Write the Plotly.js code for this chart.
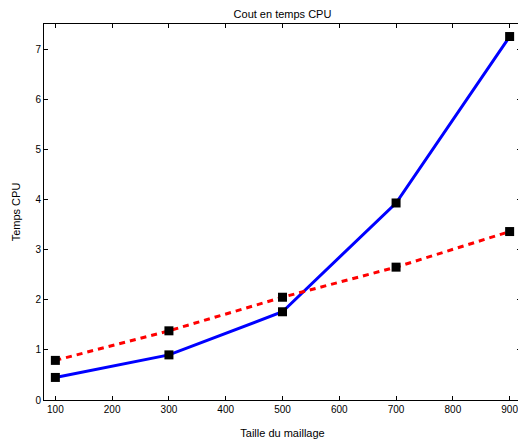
<!DOCTYPE html>
<html>
<head>
<meta charset="utf-8">
<script src="https://cdn.plot.ly/plotly-3.0.1.min.js"></script>
<style>
  html, body { margin: 0; padding: 0; overflow: hidden; background: #fff; }
  #chart { width: 522px; height: 441px; }
</style>
</head>
<body>
<div id="chart"></div>
<script>
// Mesh sizes and CPU times for the two methods
const tailles = [100, 300, 500, 700, 900];
const tempsMethodeA = [0.45, 0.90, 1.76, 3.93, 7.25];
const tempsMethodeB = [0.79, 1.38, 2.05, 2.65, 3.36];
const ticksX = [100, 200, 300, 400, 500, 600, 700, 800, 900];
const ticksY = [0, 1, 2, 3, 4, 5, 6, 7];

const marker = { symbol: 'square', size: 9, color: '#000' };

const traces = [
  {
    x: tailles, y: tempsMethodeA, mode: 'lines+markers', type: 'scatter',
    line: { color: '#0000ff', width: 3 }, marker: marker
  },
  {
    x: tailles, y: tempsMethodeB, mode: 'lines+markers', type: 'scatter',
    line: { color: '#ff0000', width: 3, dash: '6px,5px' }, marker: marker
  }
];

const axisFont = { family: 'Liberation Sans, Arial, sans-serif', size: 10, color: '#000' };
const titleFont = { family: 'Liberation Sans, Arial, sans-serif', size: 11, color: '#000' };

const layout = {
  width: 522, height: 441,
  margin: { l: 44, r: 1, t: 24, b: 41 },
  paper_bgcolor: '#fff', plot_bgcolor: '#fff',
  showlegend: false,
  font: axisFont,
  title: {
    text: 'Cout en temps CPU', font: titleFont,
    x: 0.5, xref: 'paper', xanchor: 'center', y: 1, yref: 'container', yanchor: 'top', pad: { t: 10 }
  },
  xaxis: {
    range: [80, 920], tickvals: ticksX, ticktext: ticksX.map(String),
    ticks: 'inside', ticklen: 4, tickcolor: '#000', tickwidth: 1,
    showline: true, linecolor: '#000', linewidth: 1, mirror: 'ticks',
    showgrid: false, zeroline: false, tickfont: axisFont,
    title: { text: 'Taille du maillage', font: titleFont, standoff: 15 }
  },
  yaxis: {
    range: [0, 7.5], tickvals: ticksY, ticktext: ticksY.map(String),
    ticks: 'inside', ticklen: 4, tickcolor: '#000', tickwidth: 1,
    showline: true, linecolor: '#000', linewidth: 1, mirror: 'ticks',
    showgrid: false, zeroline: false, tickfont: axisFont,
    title: { text: 'Temps CPU', font: titleFont, standoff: 12 }
  }
};

Plotly.newPlot('chart', traces, layout, { staticPlot: true, displayModeBar: false });
</script>
</body>
</html>
